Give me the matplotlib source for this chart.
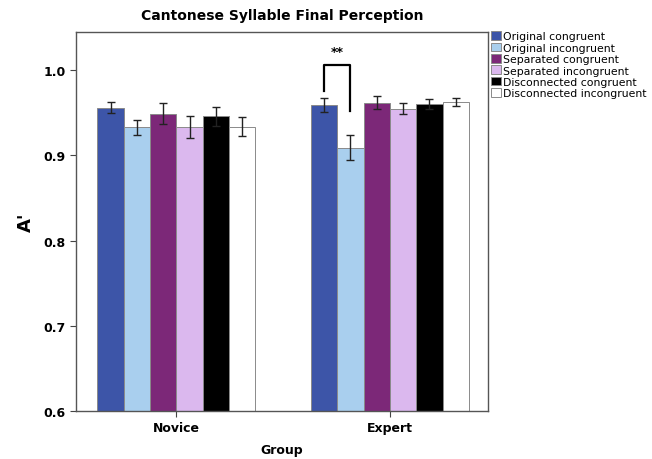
import numpy as np
import matplotlib
matplotlib.use("Agg")
import matplotlib.pyplot as plt

## Data
groups = ["Novice", "Expert"]
conditions = ["Original congruent", "Original incongruent", "Separated congruent",
              "Separated incongruent", "Disconnected congruent", "Disconnected incongruent"]
novice_means = [0.956, 0.933, 0.949, 0.933, 0.946, 0.934]
novice_err = [0.0065, 0.0085, 0.0125, 0.013, 0.0115, 0.011]
expert_means = [0.959, 0.909, 0.962, 0.955, 0.9605, 0.963]
expert_err = [0.0085, 0.0147, 0.0073, 0.0065, 0.0063, 0.0045]
colors = ["#3d55a8", "#a9cfee", "#7c2878", "#dbb8ee", "#000000", "#ffffff"]

means = np.array([novice_means, expert_means])
errs = np.array([novice_err, expert_err])

fig = plt.figure(figsize=(6.52, 4.6), dpi=100)
ax = fig.add_axes([0.1166, 0.1043, 0.632, 0.824])

x = np.arange(len(groups))
group_w = 0.74
bar_w = group_w / len(conditions)

for i in range(len(conditions)):
    pos = x - group_w / 2 + bar_w * (i + 0.5)
    ax.bar(pos, means[:, i], bar_w, bottom=0, color=colors[i], edgecolor="#8a8a8a",
           linewidth=0.7, label=conditions[i], zorder=2)
    ax.errorbar(pos, means[:, i], yerr=errs[:, i], fmt="none", ecolor="#222222",
                elinewidth=1.0, capsize=3, capthick=1.0, zorder=3)

## significance bracket (expert, original congruent vs incongruent)
p1 = x[1] - group_w / 2 + bar_w * 0.5
p2 = x[1] - group_w / 2 + bar_w * 1.5
ax.plot([p1, p1, p2, p2], [0.976, 1.006, 1.006, 0.952], color="black", lw=1.6, zorder=4)
ax.text((p1 + p2) / 2, 1.014, "**", ha="center", va="bottom", fontsize=9, fontweight="bold")

ax.set_xlim(-0.47, 1.46)
ax.set_ylim(0.6, 1.045)
ax.set_yticks([0.6, 0.7, 0.8, 0.9, 1.0])
ax.set_yticklabels(["0.6", "0.7", "0.8", "0.9", "1.0"], fontweight="bold", fontsize=9)
ax.set_xticks(x)
ax.set_xticklabels(groups, fontweight="bold", fontsize=9)
ax.tick_params(axis="both", length=4, color="#444444")

for s in ax.spines.values():
    s.set_color("#555555")
    s.set_linewidth(1.0)

ax.set_title("Cantonese Syllable Final Perception", fontweight="bold", fontsize=10, pad=9)
ax.set_ylabel("A'", fontweight="bold", fontsize=13, labelpad=6)
ax.set_xlabel("Group", fontweight="bold", fontsize=9, labelpad=6)

fig.legend(loc="upper left", bbox_to_anchor=(0.752, 0.932), frameon=False, fontsize=7.8,
           handlelength=0.85, handleheight=0.85, handletextpad=0.2, labelspacing=0.12,
           borderaxespad=0, borderpad=0.1)

fig.savefig("out.png", dpi=100)
